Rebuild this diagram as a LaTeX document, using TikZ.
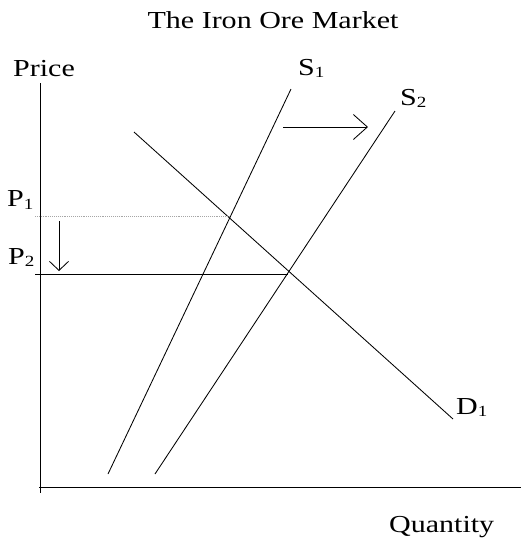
\documentclass[tikz,border=0pt]{standalone}
\usepackage{fontspec}
\setmainfont{Liberation Serif}[FakeStretch=1.23]
\usetikzlibrary{arrows.meta}
\newcommand{\subnum}[1]{\raisebox{-2.5pt}{\fontsize{15.5}{15.5}\selectfont #1}}
\begin{document}
\begin{tikzpicture}[x=1pt,y=-1pt,
  lbl/.style={inner sep=0pt, anchor=base west, font=\fontsize{24.4}{28}\selectfont},
  axisline/.style={line width=1pt, black},
  curveline/.style={line width=0.85pt, black},
  guideline/.style={line width=0.85pt, black},
  dotguide/.style={line width=0.9pt, gray!70, densely dotted},
  shiftarrow/.style={line width=0.85pt, -{Straight Barb[length=14pt,width=25pt,line width=0.85pt]}},
  droparrow/.style={line width=0.85pt, -{Straight Barb[length=9pt,width=19pt,line width=0.85pt]}}]
\useasboundingbox (0,0) rectangle (521,542);
% texts
\node[lbl, anchor=base] (title) at (273,28) {The Iron Ore Market};
\node[lbl] (price) at (13,76) {Price};
\node[lbl] (qty) at (389,532) {Quantity};
\node[lbl] (s1) at (298,75) {S\subnum{1}};
\node[lbl] (s2) at (400,105) {S\subnum{2}};
\node[lbl] (p1) at (7,206.7) {P\subnum{1}};
\node[lbl] (p2) at (8,264) {P\subnum{2}};
\node[lbl] (d1) at (456,414) {D\subnum{1}};
% coordinates
\coordinate (ytop) at (40.7,83);
\coordinate (ybot) at (40.7,493);
\coordinate (xl) at (39,487.3);
\coordinate (xr) at (521,487.3);
\coordinate (s1t) at (291,89);
\coordinate (s1b) at (108,474);
\coordinate (s2t) at (395,111);
\coordinate (s2b) at (155,474);
\coordinate (d1t) at (134,132);
\coordinate (d1b) at (453,419);
\coordinate (p1l) at (35,216.5);
\coordinate (e1) at (230.5,216.5);
\coordinate (p2l) at (35,274);
\coordinate (e2) at (287.5,274);
\coordinate (ra1) at (283,127);
\coordinate (ra2) at (368,127);
\coordinate (da1) at (59,221);
\coordinate (da2) at (59,271);
% axes
\draw[axisline] (ytop) -- (ybot);
\draw[axisline] (xl) -- (xr);
% curves
\draw[curveline] (s1t) -- (s1b);
\draw[curveline] (s2t) -- (s2b);
\draw[curveline] (d1t) -- (d1b);
% guides
\draw[dotguide] (p1l) -- (e1);
\draw[guideline] (p2l) -- (e2);
% arrows
\draw[shiftarrow] (ra1) -- (ra2);
\draw[droparrow] (da1) -- (da2);
\end{tikzpicture}
\end{document}
